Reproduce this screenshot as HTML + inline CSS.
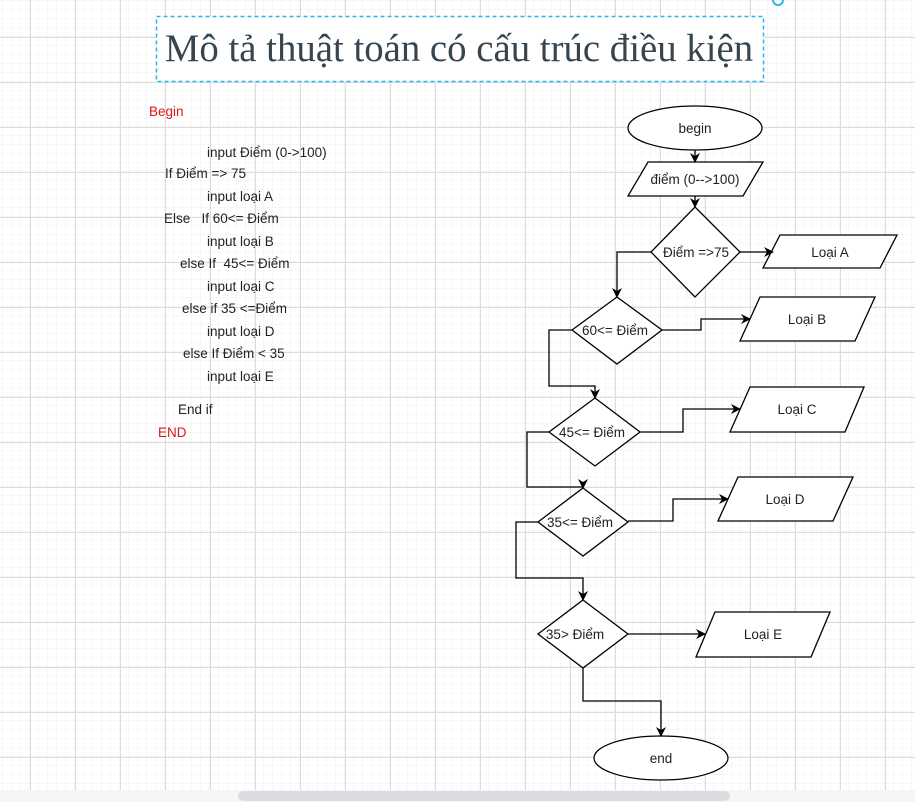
<!DOCTYPE html>
<html><head><meta charset="utf-8"><style>
html,body{margin:0;padding:0;background:#fff;}
svg{display:block;}
text{font-family:"Liberation Sans",Arial,sans-serif;font-size:13.5px;fill:#222;}
</style></head><body>
<svg width="915" height="802" viewBox="0 0 915 802" xmlns="http://www.w3.org/2000/svg">
<defs>
<pattern id="minor" x="3" y="1" width="9" height="9" patternUnits="userSpaceOnUse">
<path d="M9 0V9M0 9H9" fill="none" stroke="#efefef" stroke-width="1"/>
</pattern>
<pattern id="major" x="30" y="37" width="45" height="45" patternUnits="userSpaceOnUse">
<path d="M0.5 0V45M0 0.5H45" fill="none" stroke="#dcdcdc" stroke-width="1"/>
</pattern>
<marker id="ar" markerWidth="10" markerHeight="10" refX="9" refY="5" orient="auto" markerUnits="userSpaceOnUse">
<path d="M0,0 L10,5 L0,10 L3,5 Z" fill="#000"/>
</marker>
</defs>
<rect width="915" height="790" fill="url(#minor)"/>
<rect width="915" height="790" fill="url(#major)"/>
<rect y="790" width="915" height="12" fill="#f5f6f8"/>
<rect x="238" y="791" width="492" height="10" rx="5" fill="#dadce0"/>
<circle cx="778" cy="0" r="5" fill="none" stroke="#29b6f2" stroke-width="2"/>

<rect x="156.5" y="16.5" width="607" height="65" fill="#fff" stroke="#29b6f2" stroke-width="1.5" stroke-dasharray="4,3"/>
<text x="459" y="61" text-anchor="middle" style="font-family:'Liberation Serif',serif;font-size:38.8px;fill:#36454f">Mô tả thuật toán có cấu trúc điều kiện</text>

<text x="149" y="116" style="fill:#d9171c">Begin</text>
<text x="207" y="157">input Điểm (0-&gt;100)</text>
<text x="165" y="178">If Điểm =&gt; 75</text>
<text x="207" y="201">input loại A</text>
<text x="164" y="223" xml:space="preserve">Else   If 60&lt;= Điểm</text>
<text x="207" y="246">input loại B</text>
<text x="180" y="268" xml:space="preserve">else If  45&lt;= Điểm</text>
<text x="207" y="291">input loại C</text>
<text x="182" y="313">else if 35 &lt;=Điểm</text>
<text x="207" y="336">input loại D</text>
<text x="183" y="358">else If Điểm &lt; 35</text>
<text x="207" y="381">input loại E</text>
<text x="178" y="414">End if</text>
<text x="158" y="437" style="fill:#d9171c">END</text>

<g fill="#fff" stroke="#000" stroke-width="1.3">
<ellipse cx="695" cy="128" rx="67" ry="22"/>
<polygon points="648,162 763,162 743,196 628,196"/>
<polygon points="695,207 740,252 695,297 651,252"/>
<polygon points="780,235 897,235 880,268 763,268"/>
<polygon points="617,297 662,330 617,364 572,330"/>
<polygon points="760,297 875,297 855,341 740,341"/>
<polygon points="595,398 640,432 595,466 549,432"/>
<polygon points="750,387 864,387 845,432 730,432"/>
<polygon points="583,488 628,522 583,556 538,522"/>
<polygon points="738,477 853,477 833,521 718,521"/>
<polygon points="583,600 628,634 583,668 538,634"/>
<polygon points="715,612 830,612 811,657 696,657"/>
<ellipse cx="661" cy="758" rx="67" ry="22"/>
</g>
<g fill="none" stroke="#000" stroke-width="1.3" marker-end="url(#ar)">
<path d="M695 150V162"/>
<path d="M695 196V207"/>
<path d="M740 252H773"/>
<path d="M651 252H617V297"/>
<path d="M662 330H701V319H750"/>
<path d="M572 330H549V386H595V398"/>
<path d="M640 432H683V409H740"/>
<path d="M549 432H527V487H583V488"/>
<path d="M628 521H673V499H728"/>
<path d="M538 522H516V578H583V600"/>
<path d="M628 634H705"/>
<path d="M583 668V701H661V736"/>
</g>
<g text-anchor="middle">
<text x="695" y="133">begin</text>
<text x="695" y="184">điểm (0--&gt;100)</text>
<text x="696" y="257">Điểm =&gt;75</text>
<text x="830" y="257">Loại A</text>
<text x="615" y="335">60&lt;= Điểm</text>
<text x="807" y="324">Loại B</text>
<text x="592" y="437">45&lt;= Điểm</text>
<text x="797" y="414">Loại C</text>
<text x="580" y="527">35&lt;= Điểm</text>
<text x="785" y="504">Loại D</text>
<text x="575" y="639">35&gt; Điểm</text>
<text x="763" y="639">Loại E</text>
<text x="661" y="763">end</text>
</g>
</svg>
</body></html>
